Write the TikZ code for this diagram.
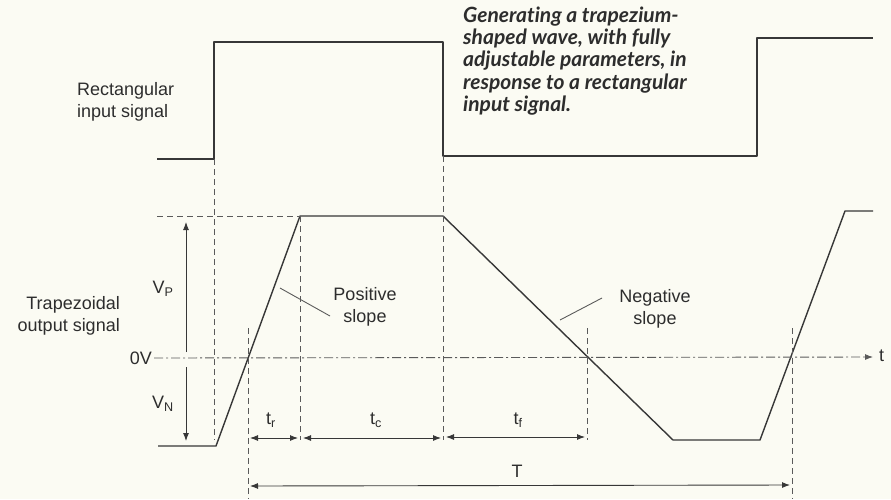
\documentclass[tikz,border=0pt]{standalone}
\usepackage{fontspec}
\setmainfont{Liberation Sans}
\newfontfamily\titlefont[Ligatures=NoCommon]{Lato}
\usetikzlibrary{arrows.meta}
\definecolor{bgc}{RGB}{251,251,243}
\definecolor{linec}{RGB}{55,55,55}
\definecolor{guidec}{RGB}{90,90,90}
\definecolor{textc}{RGB}{45,45,45}
\begin{document}
\begin{tikzpicture}[x=1pt,y=-1pt,
  sig/.style={draw=linec, line width=1.4pt, line join=round},
  guide/.style={draw=guidec, line width=0.9pt, dash pattern=on 6pt off 4pt},
  axisline/.style={draw=guidec, line width=0.9pt, dash pattern=on 9pt off 3pt on 2pt off 3pt},
  tip/.style={-{Latex[length=8pt,width=6pt]}},
  dim/.style={draw=linec, line width=0.9pt, {Latex[length=8pt,width=6pt]}-{Latex[length=8pt,width=6pt]}},
  lbl/.style={font=\fontsize{18}{21.5}\selectfont, text=textc, inner sep=0pt},
  title/.style={font=\titlefont\bfseries\itshape\fontsize{21}{22.3}\selectfont, text=textc, inner sep=0pt, align=left},
  leader/.style={draw=guidec, line width=0.9pt}]
\fill[bgc] (0,0) rectangle (891,499);
\useasboundingbox (0,0) rectangle (891,499);

% rectangular input signal
\coordinate (r0) at (157,159);
\coordinate (r1) at (214,159);
\coordinate (r2) at (214,42);
\coordinate (r3) at (443,42);
\coordinate (r4) at (443,156);
\coordinate (r5) at (757,156);
\coordinate (r6) at (757,38);
\coordinate (r7) at (873,38);
\draw[sig] (r0) -- (r1) -- (r2) -- (r3) -- (r4) -- (r5) -- (r6) -- (r7);

% trapezoidal output signal
\coordinate (p0) at (158,446);
\coordinate (p1) at (216,446);
\coordinate (p2) at (300,216);
\coordinate (p3) at (443,216);
\coordinate (p4) at (673,440);
\coordinate (p5) at (760,440);
\coordinate (p6) at (845,211);
\coordinate (p7) at (873,211);
\draw[sig] (p0) -- (p1) -- (p2) -- (p3) -- (p4) -- (p5) -- (p6) -- (p7);

% labels
\node[lbl, align=left, anchor=west] (rectlbl) at (77,102) {Rectangular\\input signal};
\node[lbl, align=right, anchor=east] (traplbl) at (120,316) {Trapezoidal\\output signal};
\node[lbl, anchor=east] (zerolbl) at (152,358) {0V};
\node[lbl, anchor=west] (tlbl) at (879,356) {t};
\node[title, anchor=west] (titlelbl) at (463,61) {Generating a trapezium-\\shaped wave, with fully\\adjustable parameters, in\\response to a rectangular\\input signal.};

% 0V axis
\coordinate (ax1) at (873,357);
\draw[axisline, tip] (zerolbl.east) ++(2pt,0) coordinate (ax0) -- (ax1);

% guides
\coordinate (gtl) at (157,216);
\draw[guide] (gtl) -- (p2);
\coordinate (g1b) at (214,440);
\draw[guide] (r1) -- (g1b);
\coordinate (g2b) at (300,440);
\draw[guide] (p2) -- (g2b);
\coordinate (g3b) at (443,440);
\draw[guide] (r4) -- (g3b);
\coordinate (z1t) at (248,328);
\coordinate (z1b) at (248,499);
\draw[guide] (z1t) -- (z1b);
\coordinate (z2t) at (587,328);
\coordinate (z2b) at (587,440);
\draw[guide] (z2t) -- (z2b);
\coordinate (z3t) at (792,328);
\coordinate (z3b) at (792,499);
\draw[guide] (z3t) -- (z3b);

% VP / VN arrows
\coordinate (vpa) at (186,352);
\coordinate (vpb) at (186,222);
\coordinate (vna) at (186,367);
\coordinate (vnb) at (186,441);
\draw[draw=linec, line width=0.9pt, tip] (vpa) -- (vpb);
\draw[draw=linec, line width=0.9pt, tip] (vna) -- (vnb);
\node[lbl] (vplbl) at (163,289) {V\textsubscript{P}};
\node[lbl] (vnlbl) at (163,404) {V\textsubscript{N}};

% time dimensions
\coordinate (tra) at (250,438);
\coordinate (trb) at (298,438);
\draw[dim] (tra) -- (trb);
\node[lbl] (trlbl) at (271,420) {t\textsubscript{r}};
\coordinate (tca) at (303,438);
\coordinate (tcb) at (441,438);
\draw[dim] (tca) -- (tcb);
\node[lbl] (tclbl) at (376,420) {t\textsubscript{c}};
\coordinate (tfa) at (446,437);
\coordinate (tfb) at (585,437);
\draw[dim] (tfa) -- (tfb);
\node[lbl] (tflbl) at (518,420) {t\textsubscript{f}};
\coordinate (Ta) at (250,486);
\coordinate (Tb) at (790,485);
\draw[dim] (Ta) -- (Tb);
\node[lbl] (Tlbl) at (517,471) {T};

% slope labels
\node[lbl, align=center] (poslbl) at (365,307) {Positive\\slope};
\coordinate (ps) at (280,288);
\coordinate (pe) at (330,316);
\draw[leader] (ps) -- (pe);
\node[lbl, align=center] (neglbl) at (655,309) {Negative\\slope};
\coordinate (ns) at (560,320);
\coordinate (ne) at (602,298);
\draw[leader] (ns) -- (ne);
\end{tikzpicture}
\end{document}
